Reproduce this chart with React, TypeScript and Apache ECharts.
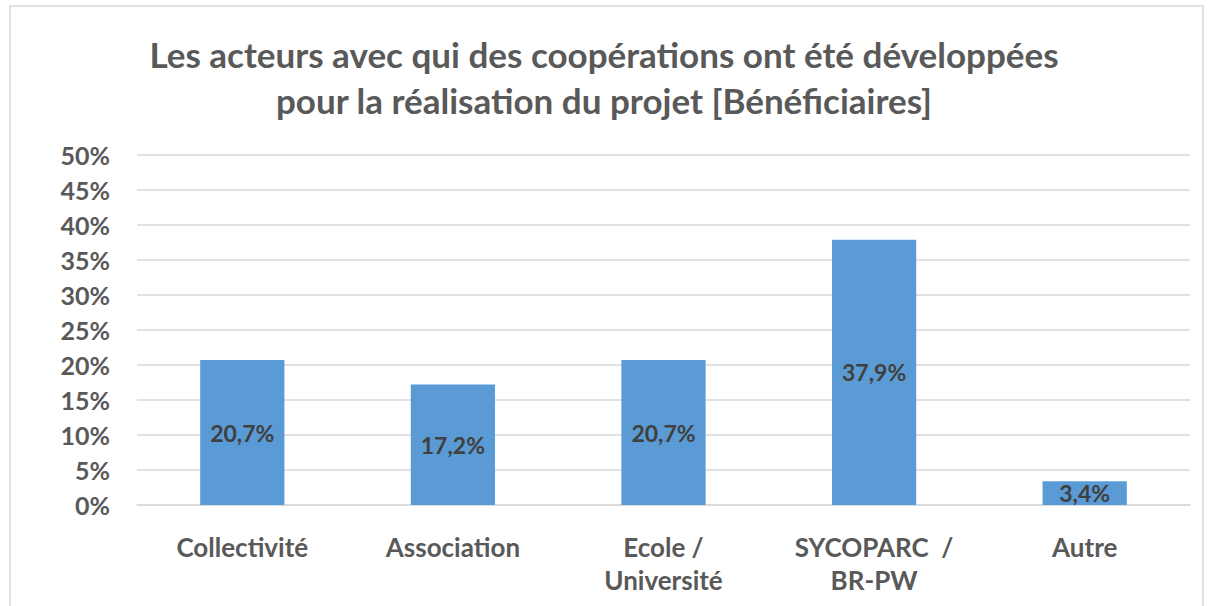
import React, { useEffect, useRef } from "react";
import * as echarts from "echarts";

const categories = ["Collectivité", "Association", "Ecole /\nUniversité", "SYCOPARC  /\nBR-PW", "Autre"];
const values = [20.7, 17.2, 20.7, 37.9, 3.4];
const titleLines = ["Les acteurs avec qui des coopérations ont été développées", "pour la réalisation du projet [Bénéficiaires]"];

const FONT = "Lato, 'Open Sans', sans-serif";

export default function App() {
  const ref = useRef<HTMLDivElement>(null);
  useEffect(() => {
    if (!ref.current) return;
    const chart = echarts.init(ref.current, null, { renderer: "svg" });
    chart.setOption({
      animation: false,
      backgroundColor: "#ffffff",
      textStyle: { fontFamily: FONT },
      title: {
        text: titleLines.join("\n"),
        left: "center",
        top: 26,
        textStyle: { fontFamily: FONT, fontSize: 35, fontWeight: "bold", color: "#595959", lineHeight: 46 },
      },
      graphic: [
        {
          type: "rect",
          shape: { x: 10, y: 6, width: 1193, height: 700 },
          style: { fill: "none", stroke: "#d9d9d9", lineWidth: 1.5 },
          silent: true,
        },
      ],
      grid: { left: 137, right: 18, top: 155, bottom: 101, containLabel: false },
      xAxis: {
        type: "category",
        data: categories,
        axisLine: { show: true, lineStyle: { color: "#d9d9d9", width: 1.5 } },
        axisTick: { show: false },
        axisLabel: {
          fontFamily: FONT,
          fontSize: 26,
          fontWeight: "bold",
          color: "#595959",
          margin: 25,
          lineHeight: 33,
          interval: 0,
        },
      },
      yAxis: {
        type: "value",
        min: 0,
        max: 50,
        interval: 5,
        axisLine: { show: false },
        axisTick: { show: false },
        splitLine: { lineStyle: { color: "#d9d9d9", width: 1.5 } },
        axisLabel: {
          fontFamily: FONT,
          fontSize: 25,
          fontWeight: "bold",
          color: "#595959",
          margin: 27,
          formatter: (v: number) => `${v}%`,
        },
      },
      series: [
        {
          type: "bar",
          data: values,
          barWidth: "40%",
          itemStyle: { color: "#5B9BD5" },
          label: {
            show: true,
            position: "inside",
            fontFamily: FONT,
            fontSize: 23,
            fontWeight: "bold",
            color: "#404040",
            formatter: (p: any) => `${String(p.value).replace(".", ",")}%`,
          },
        },
      ],
    });
    return () => chart.dispose();
  }, []);
  return (
    <div
      ref={ref}
      style={{ position: "fixed", left: 0, top: 0, width: 1208, height: 606 }}
    />
  );
}
